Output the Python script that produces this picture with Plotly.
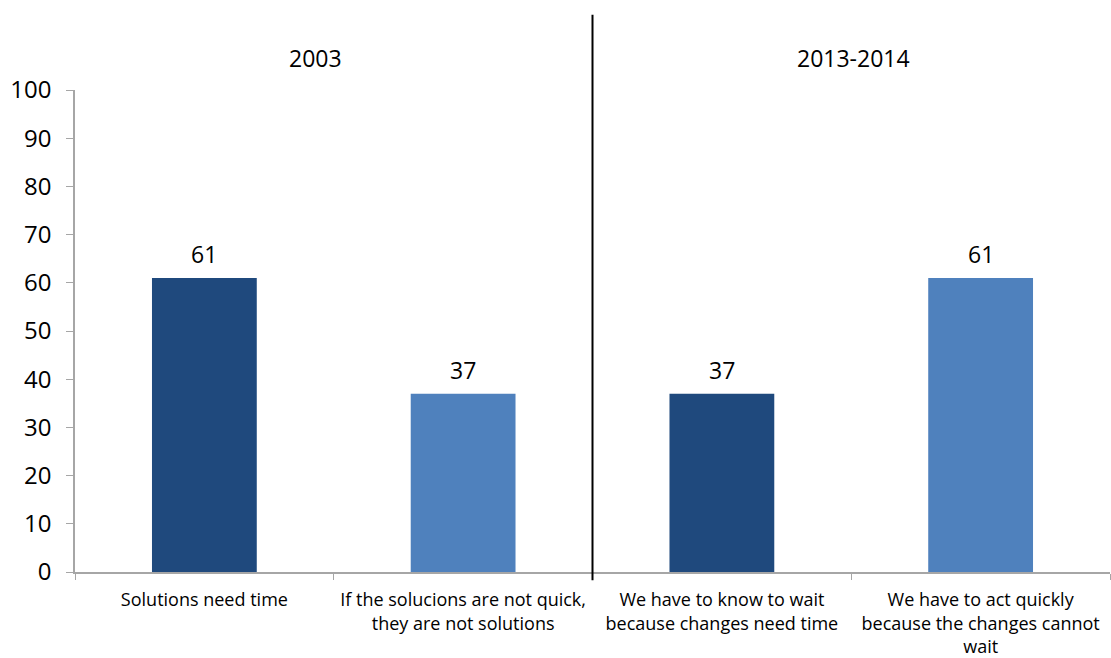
import plotly.graph_objects as go

categories = [
    "Solutions need time",
    "If the solucions are not quick,<br>they are not solutions",
    "We have to know to wait<br>because changes need time",
    "We have to act quickly<br>because the changes cannot<br>wait",
]
values = [61, 37, 37, 61]
bar_colors = ["#1F497D", "#4F81BD", "#1F497D", "#4F81BD"]
period_labels = ["2003", "2013-2014"]
y_ticks = list(range(0, 101, 10))

FONT = "Open Sans"

fig = go.Figure()
fig.add_trace(go.Bar(
    x=categories,
    y=values,
    marker=dict(color=bar_colors, line=dict(width=0)),
    width=0.405,
    hoverinfo="x+y",
))

# data labels above the bars
for c, v in zip(categories, values):
    fig.add_annotation(
        x=c, y=v, xref="x", yref="y", text=str(v), showarrow=False,
        yanchor="bottom", yshift=6,
        font=dict(family=FONT, size=23, color="#000000"),
    )

fig.update_layout(
    width=1111,
    height=658,
    margin=dict(l=75, r=1, t=90, b=86, autoexpand=False),
    paper_bgcolor="white",
    plot_bgcolor="white",
    showlegend=False,
    font=dict(family=FONT, color="#000000"),
    xaxis=dict(
        type="category",
        automargin=False,
        showline=True,
        linecolor="#A6A6A6",
        linewidth=1.5,
        ticks="outside",
        tickson="boundaries",
        ticklen=6,
        tickcolor="#A6A6A6",
        tickfont=dict(family=FONT, size=18, color="#000000"),
        ticklabelstandoff=11,
        showgrid=False,
        zeroline=False,
    ),
    yaxis=dict(
        automargin=False,
        range=[0, 100],
        tickvals=y_ticks,
        showline=True,
        linecolor="#A6A6A6",
        linewidth=1.5,
        ticks="outside",
        ticklen=7,
        tickcolor="#A6A6A6",
        tickfont=dict(family=FONT, size=24, color="#000000"),
        ticklabelstandoff=10,
        showgrid=False,
        zeroline=False,
    ),
)

# divider between periods
fig.add_shape(
    type="line", xref="paper", yref="paper",
    x0=0.5, x1=0.5, y0=-0.017, y1=1.156,
    line=dict(color="#000000", width=2),
)

# period headers
for xpos, lab in zip([0.232, 0.752], period_labels):
    fig.add_annotation(
        text=lab, xref="paper", yref="paper", x=xpos, y=1.066,
        showarrow=False, font=dict(family=FONT, size=23, color="#000000"),
        xanchor="center", yanchor="middle",
    )

fig.write_html("out.html")
